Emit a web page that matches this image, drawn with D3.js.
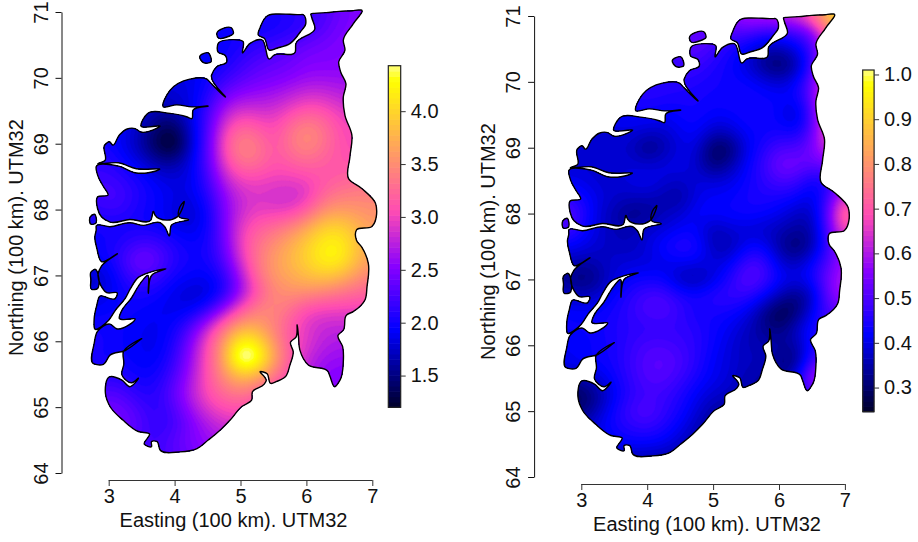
<!DOCTYPE html>
<html><head><meta charset="utf-8">
<script src="https://cdn.jsdelivr.net/npm/d3@7/dist/d3.min.js"></script>
<style>html,body{margin:0;padding:0;background:#fff}svg{display:block}text{font-family:"Liberation Sans",Arial,sans-serif;fill:#111}</style>
</head><body><svg id="c" width="918" height="542"></svg>
<script>
// Grid nodes of the two fields (100 km, UTM32)
const eastings=[2.75,3,3.25,3.5,3.75,4,4.25,4.5,4.75,5,5.25,5.5,5.75,6,6.25,6.5,6.75,7];
const northings=[71,70.75,70.5,70.25,70,69.75,69.5,69.25,69,68.75,68.5,68.25,68,67.75,67.5,67.25,67,66.75,66.5,66.25,66,65.75,65.5,65.25,65,64.75,64.5,64.25];
const meanField=[
[2,2,2,2,2,2,2,2,2,2,2,2.05,2.1,2.15,2.25,2.4,2.5,2.5],
[2,2,2,2,2,2,2,2,2,2,2,2,2.05,2.15,2.3,2.45,2.5,2.5],
[2,2,2,2,2,2,2,1.95,1.95,2.05,2.1,2.2,2.3,2.4,2.45,2.5,2.55,2.55],
[2,2,2,2,1.95,1.9,1.9,1.9,2,2.15,2.3,2.35,2.4,2.5,2.5,2.5,2.55,2.55],
[2,2,2,1.95,1.9,1.85,1.85,2,2.15,2.3,2.4,2.45,2.5,2.6,2.6,2.6,2.6,2.6],
[2,2,1.95,1.85,1.75,1.8,1.85,2.05,2.4,2.55,2.6,2.65,2.75,2.85,2.85,2.75,2.7,2.7],
[2,2,1.9,1.8,1.65,1.65,1.85,2.2,2.7,2.9,2.85,2.85,3,3.15,3.1,2.95,2.9,2.9],
[2,2,1.9,1.7,1.4,1.35,1.8,2.25,2.95,3.25,3.15,3,3.3,3.5,3.35,3.05,3,3],
[2,2,1.85,1.6,1.25,1.05,1.75,2.3,3.1,3.5,3.4,3.05,3.35,3.55,3.35,3.1,3,3],
[2.1,2.1,1.95,1.8,1.55,1.55,1.85,2.3,3,3.4,3.35,3.1,3.2,3.3,3.2,3.1,3.1,3.1],
[2.2,2.2,2.1,2,1.85,1.8,1.85,2.2,2.8,3.05,3.05,3,3,3.05,3.1,3.15,3.2,3.3],
[2.2,2.3,2.2,2.05,1.95,1.85,1.85,2.1,2.55,2.85,2.9,2.85,2.8,2.85,3.2,3.35,3.4,3.4],
[2.1,2.2,2.15,2,1.95,1.8,1.75,1.95,2.5,2.8,2.95,2.9,2.9,3.1,3.5,3.6,3.55,3.5],
[2,2,2,2,1.95,1.85,1.8,1.95,2.45,2.95,3.15,3.25,3.4,3.65,3.95,4,3.8,3.6],
[2,2,2.1,2.2,2.2,2.05,1.95,2,2.4,3,3.3,3.5,3.7,3.95,4.2,4.25,3.9,3.6],
[1.9,2,2.25,2.55,2.35,2.1,2,2,2.3,2.9,3.35,3.6,3.8,4,4.25,4.3,3.85,3.6],
[1.75,1.8,2.15,2.3,2.2,2,1.95,1.9,2.1,2.65,3.3,3.6,3.7,3.85,3.95,3.85,3.6,3.4],
[1.8,1.85,2,2.05,2,1.85,1.75,1.75,2,2.55,3.05,3.45,3.55,3.55,3.45,3.35,3.25,3.2],
[1.9,1.95,2,1.95,1.9,1.85,1.85,2.05,2.55,3.05,3.4,3.5,3.3,3.05,3,3,3,3],
[2,2,1.95,1.9,1.9,1.95,2.25,2.75,3.25,3.65,3.65,3.4,3.15,2.9,2.8,2.8,2.8,2.8],
[2.05,2,1.95,1.9,1.85,2.05,2.5,3.05,3.6,4.3,4.15,3.55,3.1,2.95,2.75,2.7,2.7,2.7],
[2,2,1.95,1.9,1.9,2.15,2.6,3.1,3.65,4.9,4.6,3.7,3.2,2.8,2.65,2.6,2.6,2.6],
[2,2.1,2.05,1.95,2,2.25,2.65,3.1,3.55,3.9,3.8,3.4,3.05,2.75,2.55,2.5,2.5,2.5],
[2.2,2.3,2.2,2.05,2.1,2.4,2.75,3.1,3.3,3.45,3.25,3,2.9,2.7,2.5,2.5,2.5,2.5],
[2.4,2.45,2.4,2.2,2.1,2.3,2.65,2.95,3.1,3.1,3,2.9,2.8,2.6,2.5,2.5,2.5,2.5],
[2.5,2.5,2.45,2.3,2.1,2.2,2.45,2.7,2.85,2.9,2.9,2.8,2.7,2.6,2.5,2.5,2.5,2.5],
[2.4,2.4,2.35,2.2,2.2,2.35,2.5,2.6,2.7,2.7,2.7,2.7,2.6,2.6,2.5,2.5,2.5,2.5],
[2.4,2.4,2.35,2.25,2.2,2.3,2.4,2.5,2.6,2.6,2.6,2.6,2.6,2.6,2.5,2.5,2.5,2.5]];
const sdField=[
[.5,.5,.5,.5,.5,.5,.5,.5,.5,.5,.55,.62,.62,.64,.66,.75,.92,.98],
[.5,.5,.5,.5,.5,.5,.5,.5,.52,.52,.5,.5,.46,.46,.47,.52,.74,.85],
[.48,.48,.48,.48,.48,.48,.48,.5,.52,.48,.44,.41,.36,.35,.4,.47,.66,.7],
[.47,.47,.47,.47,.47,.47,.48,.48,.48,.45,.43,.39,.32,.27,.33,.47,.68,.7],
[.46,.46,.46,.46,.45,.46,.46,.46,.45,.44,.43,.43,.41,.38,.42,.52,.74,.7],
[.45,.45,.45,.45,.45,.46,.45,.44,.44,.43,.44,.44,.43,.43,.42,.52,.75,.7],
[.44,.44,.43,.42,.42,.43,.41,.43,.44,.42,.42,.44,.44,.42,.35,.49,.72,.7],
[.4,.4,.38,.39,.4,.38,.38,.41,.43,.37,.38,.43,.42,.44,.42,.5,.72,.7],
[.38,.38,.37,.38,.37,.3,.34,.4,.4,.27,.28,.4,.45,.5,.49,.54,.66,.65],
[.39,.39,.38,.39,.39,.38,.4,.41,.38,.29,.34,.42,.47,.55,.55,.52,.54,.55],
[.4,.4,.38,.38,.4,.42,.39,.37,.4,.39,.4,.43,.46,.5,.49,.42,.44,.55],
[.46,.44,.4,.38,.37,.37,.35,.33,.4,.42,.42,.44,.45,.44,.43,.39,.47,.68],
[.54,.47,.39,.35,.31,.32,.37,.38,.43,.43,.43,.44,.43,.41,.37,.36,.52,.8],
[.5,.44,.39,.36,.36,.39,.39,.42,.42,.34,.39,.38,.37,.36,.34,.34,.5,.72],
[.41,.41,.38,.37,.36,.39,.44,.47,.46,.36,.34,.42,.43,.34,.28,.34,.48,.6],
[.37,.34,.36,.39,.39,.39,.4,.41,.41,.39,.41,.49,.5,.39,.36,.43,.5,.6],
[.33,.29,.33,.39,.43,.43,.43,.35,.33,.39,.45,.53,.5,.43,.41,.43,.55,.62],
[.38,.37,.38,.43,.46,.5,.5,.46,.45,.47,.48,.47,.43,.36,.3,.35,.54,.6],
[.43,.42,.43,.44,.47,.5,.51,.47,.43,.44,.43,.41,.33,.25,.29,.41,.5,.52],
[.43,.43,.43,.45,.46,.46,.46,.47,.46,.43,.41,.37,.33,.3,.38,.45,.47,.47],
[.41,.41,.43,.44,.47,.5,.5,.48,.46,.43,.39,.36,.36,.36,.33,.45,.47,.47],
[.41,.43,.43,.44,.48,.51,.52,.5,.46,.41,.39,.37,.37,.31,.29,.5,.52,.52],
[.35,.36,.39,.43,.47,.51,.51,.48,.44,.41,.39,.35,.35,.33,.4,.62,.65,.65],
[.28,.27,.33,.41,.46,.48,.48,.45,.41,.38,.37,.35,.35,.35,.4,.5,.5,.5],
[.32,.3,.37,.44,.49,.52,.47,.44,.39,.34,.34,.35,.35,.35,.4,.4,.4,.4],
[.36,.37,.41,.44,.46,.47,.45,.41,.36,.33,.34,.35,.35,.35,.35,.35,.35,.35],
[.38,.38,.38,.41,.42,.42,.41,.37,.35,.33,.34,.35,.35,.35,.35,.35,.35,.35],
[.36,.36,.36,.35,.35,.34,.34,.34,.34,.34,.34,.35,.35,.35,.35,.35,.35,.35]];
// Coastline and islands [easting, northing]
const mainland=[[6.83,71.03],[6.71,70.82],[6.56,70.57],[6.585,70.42],[6.49,70.24],[6.52,70.09],[6.6,69.91],[6.56,69.71],[6.585,69.43],[6.69,69.13],[6.66,68.8],[6.64,68.47],[6.84,68.32],[7.05,68.09],[6.99,67.74],[6.76,67.69],[6.76,67.535],[6.84,67.43],[6.94,67.18],[6.92,66.83],[6.89,66.63],[6.71,66.45],[6.61,66.4],[6.56,66.17],[6.48,66.09],[6.55,65.92],[6.56,65.69],[6.51,65.41],[6.43,65.31],[6.36,65.46],[6.33,65.54],[6.03,65.64],[5.9,65.87],[5.88,66.07],[5.86,66.25],[5.84,66.06],[5.76,65.99],[5.8,65.84],[5.75,65.64],[5.68,65.46],[5.55,65.39],[5.46,65.36],[5.4,65.51],[5.3,65.54],[5.39,65.4],[5.36,65.35],[5.18,65.23],[5.17,65.11],[5.02,65.01],[4.84,64.8],[4.69,64.65],[4.51,64.5],[4.34,64.37],[4.08,64.32],[3.78,64.35],[3.73,64.48],[3.65,64.48],[3.65,64.4],[3.54,64.44],[3.62,64.59],[3.45,64.63],[3.22,64.8],[3.02,65.01],[2.95,65.21],[3.01,65.46],[3.2,65.41],[3.32,65.31],[3.45,65.44],[3.35,65.37],[3.2,65.49],[3.23,65.66],[3.22,65.83],[3.5,66.04],[3.25,65.86],[3.02,65.79],[2.92,65.65],[2.77,65.66],[2.78,65.97],[2.83,66.15],[3.02,66.26],[3.12,66.19],[3.4,66.34],[3.16,66.35],[3.2,66.47],[3.34,66.65],[3.48,66.88],[3.59,67],[3.6,66.73],[3.65,67],[3.87,67.1],[3.63,67.05],[3.45,66.97],[3.33,66.8],[3.25,66.65],[3.1,66.47],[3,66.32],[2.79,66.185],[2.78,66.35],[2.82,66.55],[2.86,66.68],[3.1,66.65],[3.13,66.73],[2.97,66.74],[2.88,66.85],[2.84,67.03],[2.89,67.14],[3.13,67.33],[2.89,67.21],[2.82,67.41],[2.79,67.59],[2.81,67.69],[2.81,67.75],[3.02,67.74],[3.32,67.8],[3.53,67.76],[3.78,67.8],[3.85,67.74],[3.92,67.6],[3.95,67.76],[4.21,67.85],[4.07,67.89],[4.08,68.04],[4.14,68.12],[4.04,67.89],[3.88,67.84],[3.7,67.92],[3.68,67.97],[3.64,67.84],[3.32,67.85],[3.02,67.81],[2.89,67.89],[2.83,68.02],[2.83,68.19],[2.99,68.22],[2.92,68.35],[2.84,68.5],[2.81,68.65],[3.15,68.66],[3.4,68.56],[3.6,68.56],[3.77,68.61],[3.42,68.62],[3.15,68.71],[2.84,68.7],[2.94,68.74],[2.94,68.98],[3.01,69.03],[3.06,68.98],[3.16,69.13],[3.27,69.22],[3.4,69.23],[3.48,69.18],[3.78,69.27],[3.49,69.27],[3.59,69.46],[3.93,69.46],[4.18,69.41],[4.26,69.38],[4.28,69.51],[4.51,69.57],[4.26,69.56],[4.03,69.59],[3.83,69.56],[3.93,69.81],[4.23,69.98],[4.49,69.98],[4.56,69.91],[4.77,69.71],[4.56,70.04],[4.64,70.17],[4.79,70.24],[4.77,70.34],[4.66,70.39],[4.66,70.52],[4.87,70.58],[5.04,70.55],[5.03,70.38],[5.14,70.52],[5.32,70.58],[5.45,70.29],[5.5,70.34],[5.83,70.39],[5.84,70.52],[6.13,70.75],[6.08,70.92],[6.07,70.97],[6.12,70.98],[6.3,70.99],[6.5,71.01],[6.7,71.02],[6.79,71.03]];
const islandNorth=[[5.27,70.65],[5.3,70.77],[5.42,70.95],[5.48,70.965],[5.55,70.97],[5.75,70.965],[5.9,70.96],[5.95,70.96],[5.99,70.82],[5.91,70.7],[5.75,70.52],[5.55,70.45],[5.44,70.42],[5.36,70.6]];
const islandA=[[4.64,70.66],[4.87,70.75],[4.89,70.67],[4.82,70.63],[4.66,70.61]];
const islandB=[[4.38,70.32],[4.51,70.38],[4.55,70.24],[4.44,70.23]];
const islandC=[[2.72,67.89],[2.78,67.93],[2.8,67.79],[2.73,67.78]];
const islandD=[[2.73,67.05],[2.78,67.09],[2.81,66.79],[2.74,66.79],[2.73,66.93]];
const eastTicks=[3,4,5,6,7], northTicks=[64,65,66,67,68,69,70,71];
const meanRange=[1.2,4.43], meanTicks=[1.5,2,2.5,3,3.5,4];
const sdRange=[.246,1.01], sdTicks=[.3,.4,.5,.6,.7,.8,.9,1];
const xLabel="Easting (100 km). UTM32", yLabel="Northing (100 km). UTM32";

const FONT=20, LEVELS=64, UP=4;
// bpy.colors ramp
function bpy(t){const x=.04+.92*t;
 const r=x<.25?0:x<.57?x/.32-.78125:1, g=x<.42?0:x<.92?2*x-.84:1,
 b=x<.25?4*x:x<.42?1:x<.92?-2*x+1.84:x/.08-11.5;
 return d3.rgb(r*255,g*255,Math.max(0,Math.min(1,b))*255).formatHex();}
// Refine a coarse grid for smooth contour rendering
function refine(rows){const nr=rows.length,nc=rows[0].length,w=(nc-1)*UP+1,h=(nr-1)*UP+1,out=new Float64Array(w*h);
 for(let j=0;j<h;j++){const fj=j/UP,j0=Math.min(nr-2,Math.floor(fj)),tj=fj-j0;
  for(let i=0;i<w;i++){const fi=i/UP,i0=Math.min(nc-2,Math.floor(fi)),ti=fi-i0;
   out[j*w+i]=(rows[j0][i0]*(1-ti)+rows[j0][i0+1]*ti)*(1-tj)+(rows[j0+1][i0]*(1-ti)+rows[j0+1][i0+1]*ti)*tj;}}
 const o={data:out,width:w,height:h};d3.blur2(o,1.4);return o;}

const svg=d3.select("#c");
const allPolys=[mainland,islandNorth,islandA,islandB,islandC,islandD];

function panel(id,dx,dy,rows,range,ticks,barX,barW,barTop,barBot,fmt,xLabelX,xLabelY,yLabelX,yLabelY){
 const g=svg.append("g").attr("transform",`translate(${dx},${dy})`);
 const x=d3.scaleLinear().domain([3,7]).range([108.7,372.3]);
 const y=d3.scaleLinear().domain([64,71]).range([473,12]);
 const color=t=>bpy(Math.max(0,Math.min(1,(t-range[0])/(range[1]-range[0]))));
 const line=d3.line().x(d=>x(d[0])).y(d=>y(d[1])).curve(d3.curveCatmullRomClosed.alpha(1));
 const outline=allPolys.map(p=>line(p)).join("");
 svg.append("clipPath").attr("id",id).append("path").attr("d",outline);
 const r=refine(rows);
 const thr=d3.range(LEVELS).map(i=>range[0]+i*(range[1]-range[0])/LEVELS);
 const conts=d3.contours().size([r.width,r.height]).thresholds(thr)(Array.from(r.data));
 const e0=eastings[0],eStep=(eastings[1]-eastings[0])/UP,n0=northings[0],nStep=(northings[1]-northings[0])/UP;
 // Contours end at the grid border; push those border vertices outward so the clip is always covered
 const gx=a=>a<=0?e0-1:a>=r.width?e0+(r.width+8)*eStep:e0+(a-.5)*eStep;
 const gy=b=>b<=0?n0+1:b>=r.height?n0+(r.height+8)*nStep:n0+(b-.5)*nStep;
 const path=d3.geoPath(d3.geoTransform({point(a,b){this.stream.point(x(gx(a)),y(gy(b)));}}));
 const map=g.append("g").attr("clip-path",`url(#${id})`);
 map.append("rect").attr("x",x(2.6)).attr("y",y(71.2)).attr("width",x(7.2)-x(2.6)).attr("height",y(64)-y(71.2)).attr("fill",bpy(0));
 map.selectAll("path").data(conts).join("path").attr("d",path).attr("fill",d=>color(d.value+(range[1]-range[0])/LEVELS/2)).attr("stroke",d=>color(d.value+(range[1]-range[0])/LEVELS/2)).attr("stroke-width",.4);
 g.append("path").attr("d",outline).attr("fill","none").attr("stroke","#000").attr("stroke-width",1.4).attr("stroke-linejoin","round");

 // axes
 const ax=g.append("g").attr("transform","translate(0,480)").call(d3.axisBottom(x).tickValues(eastTicks).tickSize(6).tickSizeOuter(0).tickFormat(d3.format("d")));
 ax.selectAll("path,line").attr("stroke","#333").attr("stroke-width",1);
 ax.select(".domain").attr("d",`M${x(3)},.5H${x(7)}`);
 ax.selectAll("text").attr("font-size",FONT).attr("y",22.5).attr("dy",0);
 const ay=g.append("g").attr("transform","translate(61.5,0)").call(d3.axisLeft(y).tickValues(northTicks).tickSize(6).tickSizeOuter(0).tickFormat(d3.format("d")));
 ay.selectAll("path,line").attr("stroke","#111").attr("stroke-width",1);
 ay.selectAll("text").attr("font-size",FONT).attr("text-anchor","middle").attr("x",0).attr("dy",0).attr("transform","translate(-14,0) rotate(-90)");
 g.append("text").attr("x",xLabelX).attr("y",xLabelY).attr("text-anchor","middle").attr("font-size",FONT).text(xLabel);
 g.append("text").attr("transform",`translate(${yLabelX},${yLabelY}) rotate(-90)`).attr("text-anchor","middle").attr("font-size",FONT).text(yLabel);

 // colour bar
 const sb=d3.scaleLinear().domain(range).range([barBot-dy,barTop-dy]);
 const bar=g.append("g");
 const lv=d3.range(LEVELS).map(i=>range[0]+i*(range[1]-range[0])/LEVELS);
 bar.selectAll("rect").data(lv).join("rect").attr("x",barX-dx).attr("width",barW)
  .attr("y",d=>sb(d+(range[1]-range[0])/LEVELS)).attr("height",(barBot-barTop)/LEVELS+.6)
  .attr("fill",d=>color(d+(range[1]-range[0])/LEVELS/2));
 bar.append("rect").attr("x",barX-dx).attr("y",barTop-dy).attr("width",barW).attr("height",barBot-barTop).attr("fill","none").attr("stroke","#222").attr("stroke-width",1.2);
 const ac=g.append("g").attr("transform",`translate(${barX-dx+barW},0)`).call(d3.axisRight(sb).tickValues(ticks).tickSize(5).tickSizeOuter(0).tickFormat(fmt));
 ac.select(".domain").remove();
 ac.selectAll("line").attr("stroke","#333");
 ac.selectAll("text").attr("font-size",FONT).attr("x",10);
}
panel("clipA",0,0,meanField,meanRange,meanTicks,388.3,12.4,65.7,407.3,d3.format(".1f"),233.5,527,22.7,237.5);
panel("clipB",472.6,4,sdField,sdRange,sdTicks,862.7,11.4,70,411.7,d3.format(".1f"),234.4,527,22.7,237.5);
</script></body></html>
